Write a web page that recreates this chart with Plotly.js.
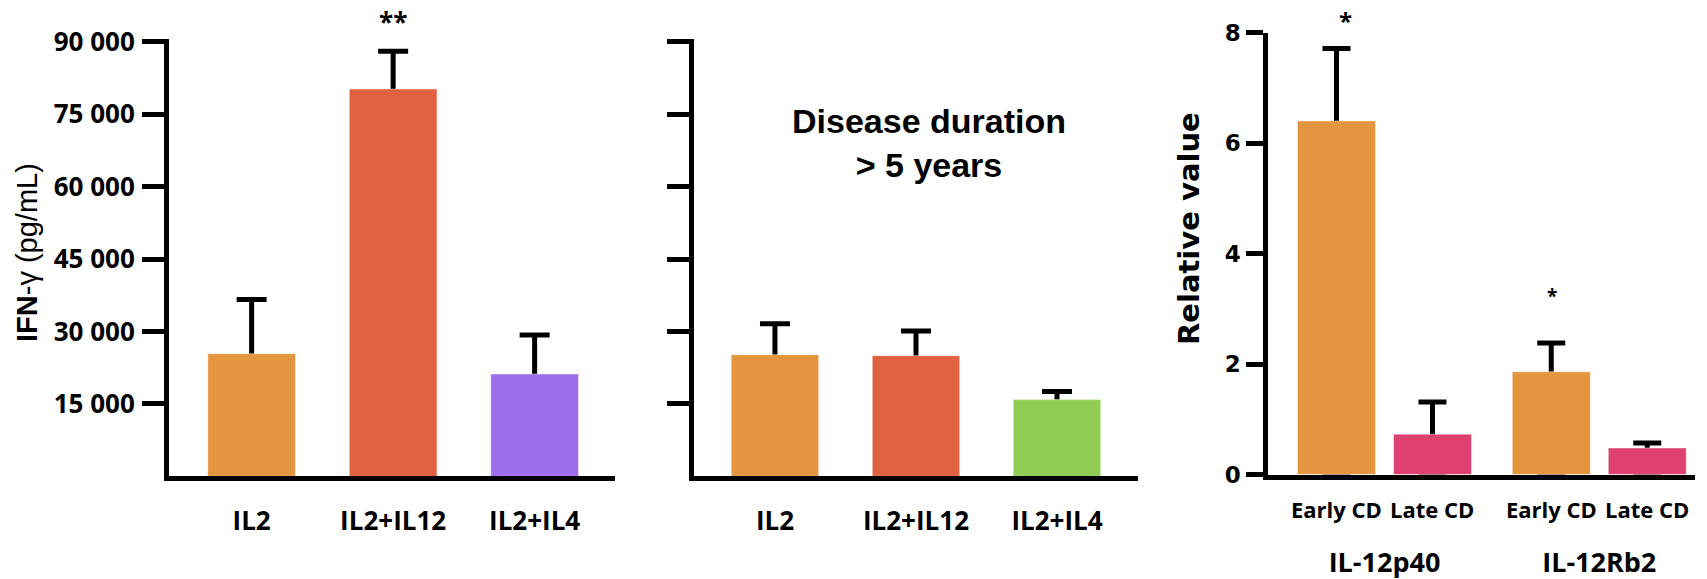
<!DOCTYPE html>
<html>
<head>
<meta charset="utf-8">
<script src="https://cdn.plot.ly/plotly-3.0.1.min.js"></script>
<style>html,body{margin:0;padding:0;background:#fff;}#chart{width:1707px;height:579px;}</style>
</head>
<body>
<div id="chart"></div>
<script>
// ---- data ----
const conditions = ["IL2", "IL2+IL12", "IL2+IL4"];
const ifnAll = [25400, 80200, 21200];
const ifnAllErr = [11200, 7800, 8100];
const ifnLong = [25200, 25000, 15900];
const ifnLongErr = [6400, 5100, 1700];
const ifnTickVals = [15000, 30000, 45000, 60000, 75000, 90000];
const ifnTickText = ["15 000", "30 000", "45 000", "60 000", "75 000", "90 000"];
const genes = ["IL-12p40", "IL-12Rb2"];
const earlyCD = [6.40, 1.86];
const earlyCDErr = [1.31, 0.52];
const lateCD = [0.73, 0.48];
const lateCDErr = [0.58, 0.09];
const relTickVals = [0, 2, 4, 6, 8];
const relTickText = ["0", "2", "4", "6", "8"];
const stageLabels = ["Early CD", "Late CD"];

// ---- styles ----
const ORANGE = "#E3953F", RED = "#E06242", PURPLE = "#9D6FEC", GREEN = "#92CD53", PINK = "#DE4170";
const OS = "Open Sans", LS = "Liberation Sans", DV = "DejaVu Sans";
const EDGE = {color: "rgba(255,255,255,0.45)", width: 1};

// error bars: drawn on a transparent copy of the bars (lower end at the base),
// then covered by the visible bars so only the upper whisker shows
function barPair(x, y, err, colors, xa, ya, capW, extra) {
  const under = Object.assign({type: "bar", x: x, y: y, xaxis: xa, yaxis: ya,
    marker: {color: "rgba(0,0,0,0)"}, hoverinfo: "skip",
    error_y: {type: "data", symmetric: false, array: err, arrayminus: y, color: "#000", thickness: 5, width: capW}}, extra);
  const over = Object.assign({type: "bar", x: x, y: y, xaxis: xa, yaxis: ya,
    marker: {color: colors, line: EDGE}, hoverinfo: "x+y"}, extra);
  return [under, over];
}

const traces = [].concat(
  barPair(conditions, ifnAll, ifnAllErr, [ORANGE, RED, PURPLE], "x", "y", 15, {width: 0.62}),
  barPair(conditions, ifnLong, ifnLongErr, [ORANGE, RED, GREEN], "x2", "y2", 15, {width: 0.62}),
  barPair(genes, earlyCD, earlyCDErr, ORANGE, "x3", "y3", 14, {width: 0.363, offset: -0.405, name: stageLabels[0]}),
  barPair(genes, lateCD, lateCDErr, PINK, "x3", "y3", 14, {width: 0.363, offset: 0.042, name: stageLabels[1]})
);

const W = 1707, H = 579;
const px = v => v / W, py = v => 1 - v / H;   // pixel (from top-left) -> paper

const baseX = {type: "category", showgrid: false, zeroline: false, showline: true, linecolor: "#000", linewidth: 5,
  ticks: "", fixedrange: true, tickfont: {family: OS, size: 26, color: "#000", weight: "bold"}};
const baseY = {showgrid: false, zeroline: false, showline: true, linecolor: "#000", linewidth: 5,
  ticks: "outside", ticklen: 22, tickwidth: 5, tickcolor: "#000", fixedrange: true,
  tickfont: {family: OS, size: 26, color: "#000", weight: "bold"}};

const layout = {
  width: W, height: H, margin: {l: 0, r: 0, t: 0, b: 0},
  paper_bgcolor: "#fff", plot_bgcolor: "rgba(0,0,0,0)",
  showlegend: false, barmode: "overlay",
  xaxis: Object.assign({}, baseX, {domain: [px(169), px(615)], range: [-0.584, 2.568], anchor: "y", ticklabelstandoff: 17}),
  yaxis: Object.assign({}, baseY, {domain: [py(476.4), py(38.8)], range: [0, 90600], anchor: "x",
    tickmode: "array", tickvals: ifnTickVals, ticktext: ifnTickText, ticklabelstandoff: 2}),
  xaxis2: Object.assign({}, baseX, {domain: [px(693.6), px(1137.5)], range: [-0.577, 2.571], anchor: "y2", ticklabelstandoff: 17}),
  yaxis2: Object.assign({}, baseY, {domain: [py(476.4), py(38.8)], range: [0, 90600], anchor: "x2",
    tickmode: "array", tickvals: ifnTickVals, showticklabels: false}),
  xaxis3: Object.assign({}, baseX, {domain: [px(1268.3), px(1694.6)], range: [-0.541, 1.444], anchor: "y3",
    ticklabelstandoff: 60, tickfont: {family: OS, size: 27, color: "#000", weight: "bold"}}),
  yaxis3: Object.assign({}, baseY, {domain: [py(474.5), py(32.5)], range: [0, 8], anchor: "x3",
    tickmode: "array", tickvals: relTickVals, ticktext: relTickText, ticklen: 17, ticklabelstandoff: 1,
    tickfont: {family: DV, size: 23, color: "#000", weight: "bold"}}),
  annotations: [
    {xref: "paper", yref: "paper", x: px(27), y: py(253), text: "<b>IFN</b>-γ (pg/mL)", textangle: -90,
     showarrow: false, xanchor: "center", yanchor: "middle", font: {family: LS, size: 29, color: "#000"}},
    {xref: "paper", yref: "paper", x: px(1189), y: py(229), text: "Relative value", textangle: -90,
     showarrow: false, xanchor: "center", yanchor: "middle", font: {family: DV, size: 29, color: "#000", weight: "bold"}},
    {xref: "paper", yref: "paper", x: px(928.6), y: py(143), text: "Disease duration<br>> 5 years",
     showarrow: false, xanchor: "center", yanchor: "middle", align: "center", font: {family: LS, size: 34, color: "#000", weight: "bold"}},
    {xref: "x", yref: "paper", x: conditions[1], y: py(22), text: "**", showarrow: false, yanchor: "middle",
     font: {family: OS, size: 26, color: "#000", weight: "bold"}},
    {xref: "x3", yref: "paper", x: -0.18, y: py(20), text: "*", showarrow: false, yanchor: "middle",
     font: {family: OS, size: 24, color: "#000", weight: "bold"}},
    {xref: "x3", yref: "paper", x: 0.78, y: py(296), text: "*", showarrow: false, yanchor: "middle",
     font: {family: OS, size: 19, color: "#000", weight: "bold"}}
  ]
};

// sub-labels under each bar of the grouped panel (centred on the bars)
const barW = 0.363, offs = [-0.405, 0.042];
genes.forEach((g, gi) => {
  stageLabels.forEach((s, si) => {
    layout.annotations.push({xref: "x3", yref: "paper", x: gi + offs[si] + barW / 2, y: py(509),
      text: s, showarrow: false, xanchor: "center", yanchor: "middle",
      font: {family: OS, size: 22, color: "#000", weight: "bold"}});
  });
});

Plotly.newPlot("chart", traces, layout, {displayModeBar: false, staticPlot: true});
</script>
</body>
</html>
